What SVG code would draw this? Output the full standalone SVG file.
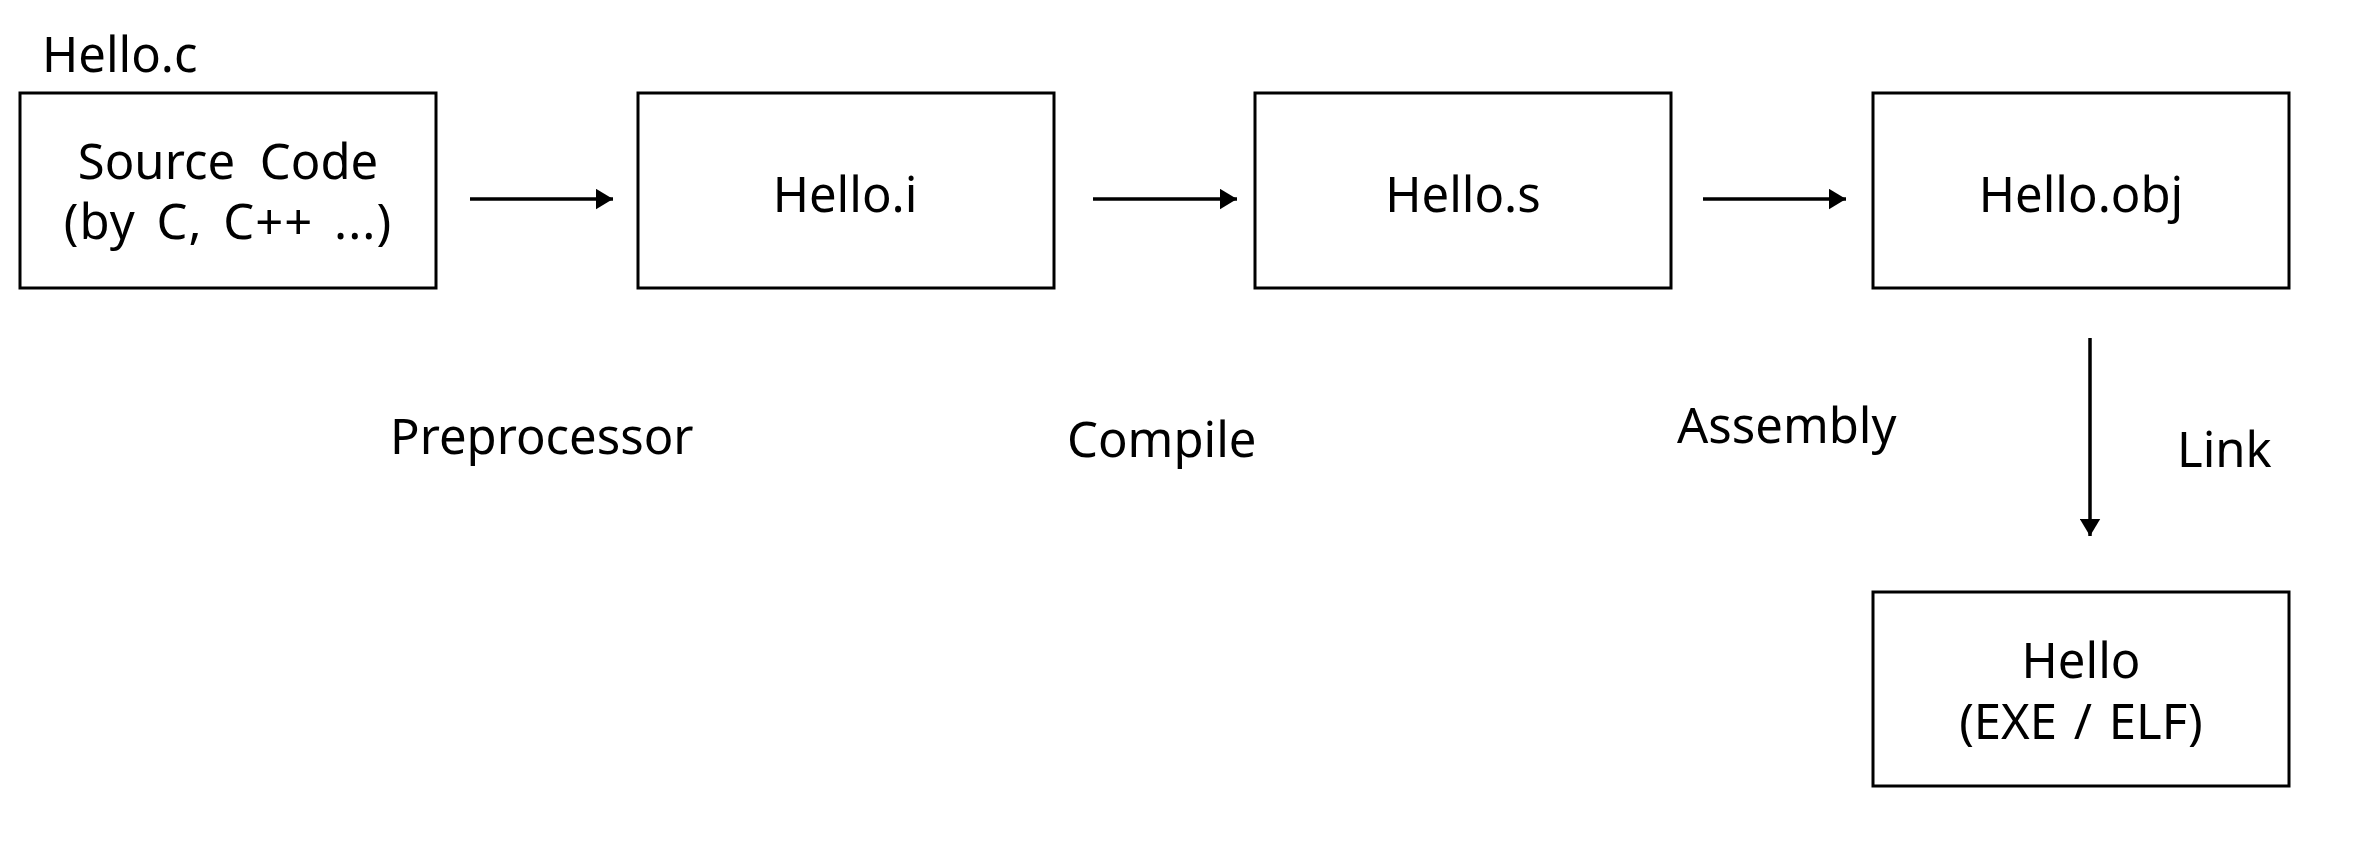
<svg xmlns="http://www.w3.org/2000/svg" width="2380" height="856" viewBox="0 0 2380 856">
<style>
.box{fill:#fff;stroke:#000;stroke-width:3}
.t{font-family:"Noto Sans","Open Sans",sans-serif;font-size:49px;fill:#000;text-anchor:middle}
.l{font-family:"Noto Sans","Open Sans",sans-serif;font-size:49px;fill:#000}
.c{stroke:#000;stroke-width:3.5;fill:none;marker-end:url(#ah)}
</style>
<defs>
<marker id="ah" markerWidth="6" markerHeight="6" refX="5" refY="3" orient="auto" markerUnits="strokeWidth">
<path d="M0,0 L5,3 L0,6 Z" fill="#000"/>
</marker>
</defs>
<rect width="2380" height="856" fill="#fff"/>
<g id="connectors">
<line class="c" x1="470" y1="199" x2="613" y2="199"/>
<line class="c" x1="1093" y1="199" x2="1237" y2="199"/>
<line class="c" x1="1703" y1="199" x2="1846" y2="199"/>
<line class="c" x1="2090" y1="338" x2="2090" y2="536"/>
</g>
<g id="label-hello-c"><text class="l" x="42" y="72">Hello.c</text></g>
<g id="node-source">
<rect class="box" x="20" y="93" width="416" height="195"/>
<text class="t" x="228" y="179" word-spacing="12">Source Code</text>
<text class="t" x="228" y="239" word-spacing="7" letter-spacing="1">(by C, C++ ...)</text>
</g>
<g id="node-hello-i">
<rect class="box" x="638" y="93" width="416" height="195"/>
<text class="t" x="845" y="212">Hello.i</text>
</g>
<g id="node-hello-s">
<rect class="box" x="1255" y="93" width="416" height="195"/>
<text class="t" x="1463" y="212">Hello.s</text>
</g>
<g id="node-hello-obj">
<rect class="box" x="1873" y="93" width="416" height="195"/>
<text class="t" x="2081" y="212">Hello.obj</text>
</g>
<g id="node-hello">
<rect class="box" x="1873" y="592" width="416" height="194"/>
<text class="t" x="2081" y="678">Hello</text>
<text class="t" x="2081" y="739" word-spacing="4">(EXE / ELF)</text>
</g>
<g id="labels">
<text class="l" x="390" y="454">Preprocessor</text>
<text class="l" x="1067" y="457">Compile</text>
<text class="l" x="1677" y="443">Assembly</text>
<text class="l" x="2177" y="467">Link</text>
</g>
</svg>
